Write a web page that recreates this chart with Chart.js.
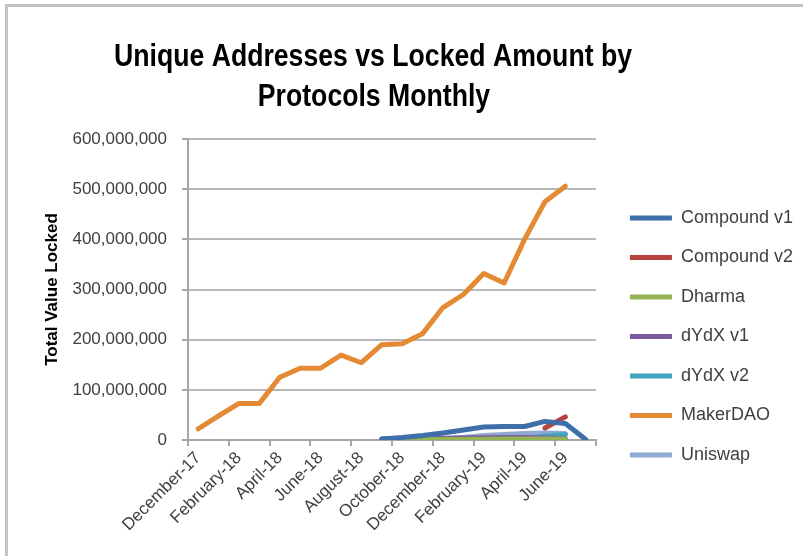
<!DOCTYPE html>
<html>
<head>
<meta charset="utf-8">
<script src="https://cdn.jsdelivr.net/npm/chart.js@4/dist/chart.umd.min.js"></script>
<style>
  body { margin: 0; background: #fff; }
  #frame { position: absolute; left: 5px; top: 4px; width: 820px; height: 580px;
           border-top: 3px solid #c4c4c4; border-left: 3px solid #c4c4c4; }
  #wrap { position: absolute; left: 0; top: 0; width: 803px; height: 556px; }
</style>
</head>
<body>
<div id="frame"></div>
<div id="wrap"><canvas id="tvlChart" width="803" height="556"></canvas></div>
<script>
// Months on the category axis (every other one gets a label, like the original)
const months = [
  'December-17', 'January-18', 'February-18', 'March-18', 'April-18', 'May-18',
  'June-18', 'July-18', 'August-18', 'September-18', 'October-18', 'November-18',
  'December-18', 'January-19', 'February-19', 'March-19', 'April-19', 'May-19',
  'June-19', 'July-19'
];

// Total value locked, in millions
const compoundV1 = [null, null, null, null, null, null, null, null, null, 2, 5, 9, 14, 20, 26, 27, 27, 37, 33, 1];
const compoundV2 = [null, null, null, null, null, null, null, null, null, null, null, null, null, null, null, null, null, 24, 46, null];
const dharma     = [null, null, null, null, null, null, null, null, null, 0.3, 0.5, 0.8, 1, 1.2, 1.5, 1.8, 2, 2.2, 2, null];
const dydxV1     = [null, null, null, null, null, null, null, null, null, 2, 2.5, 3, 3.5, 4, 4.5, 5, 5, 4, 3, null];
const dydxV2     = [null, null, null, null, null, null, null, null, null, null, null, null, null, null, null, null, 2, 8, 11, null];
const makerDao   = [22, 48, 73, 73, 125, 143, 143, 169, 154, 190, 192, 212, 264, 290, 332, 313, 400, 475, 506, null];
const uniswap    = [null, null, null, null, null, null, null, null, null, null, null, 0.5, 2, 5, 9, 11, 13, 14, 13, null];

const yTicks = [0, 100000000, 200000000, 300000000, 400000000, 500000000, 600000000];
const titleLines = ['Unique Addresses vs Locked Amount by', 'Protocols Monthly'];

const toUnits = arr => arr.map(v => v === null ? null : v * 1000000);

function series(label, values, color) {
  return {
    label: label,
    data: toUnits(values),
    borderColor: color,
    backgroundColor: color,
    borderWidth: 5,
    borderCapStyle: 'round',
    borderJoinStyle: 'round',
    pointRadius: 0,
    pointStyle: 'line',
    tension: 0,
    fill: false
  };
}

// Title drawn by hand: narrow bold (Calibri-like) and centred over the plot like in Excel
const excelTitle = {
  id: 'excelTitle',
  afterDraw(chart) {
    const ctx = chart.ctx;
    ctx.save();
    ctx.font = 'bold 31px "Liberation Sans", Arial, sans-serif';
    ctx.fillStyle = '#000';
    ctx.textAlign = 'center';
    ctx.textBaseline = 'alphabetic';
    const squeeze = 518 / ctx.measureText(titleLines[0]).width;
    ctx.fillText(titleLines[0], 373, 66, ctx.measureText(titleLines[0]).width * squeeze);
    ctx.fillText(titleLines[1], 374, 106, ctx.measureText(titleLines[1]).width * squeeze);
    ctx.restore();
  }
};

const tickFont = { family: '"Liberation Sans", Arial, sans-serif', size: 17 };

new Chart(document.getElementById('tvlChart'), {
  type: 'line',
  data: {
    labels: months,
    datasets: [
      series('Compound v1', compoundV1, '#3f6fa9'),
      series('Compound v2', compoundV2, '#b8423e'),
      series('Dharma', dharma, '#94b453'),
      series('dYdX v1', dydxV1, '#7a5c9e'),
      series('dYdX v2', dydxV2, '#42a6c0'),
      series('MakerDAO', makerDao, '#e48a35'),
      series('Uniswap', uniswap, '#90aad4')
    ]
  },
  options: {
    responsive: false,
    animation: false,
    devicePixelRatio: 1,
    layout: { padding: { top: 139, left: 0, right: 0, bottom: 22 } },
    plugins: {
      title: { display: false },
      tooltip: { enabled: false },
      legend: {
        position: 'right',
        align: 'center',
        labels: {
          usePointStyle: true,
          pointStyleWidth: 42,
          boxHeight: 5,
          padding: 21.5,
          color: '#404040',
          font: { family: '"Liberation Sans", Arial, sans-serif', size: 18 }
        }
      }
    },
    scales: {
      x: {
        offset: true,
        grid: {
          offset: true,
          drawOnChartArea: false,
          tickLength: 6,
          lineWidth: 2,
          tickColor: c => (c.index === undefined || c.index % 2 === 0) ? '#a6a6a6' : 'rgba(0,0,0,0)'
        },
        border: { color: '#a6a6a6', width: 2 },
        ticks: {
          autoSkip: false,
          minRotation: 45,
          maxRotation: 45,
          padding: 2,
          color: '#404040',
          font: tickFont,
          callback: (v, i) => i % 2 === 0 ? months[i] : ''
        },
        afterFit: s => { s.height = 94; }
      },
      y: {
        min: 0,
        max: 600000000,
        afterBuildTicks: s => { s.ticks = yTicks.map(v => ({ value: v })); },
        grid: { color: '#b8b8b8', lineWidth: 2, tickLength: 6, tickColor: '#a6a6a6' },
        border: { color: '#a6a6a6', width: 2 },
        ticks: {
          padding: 15,
          color: '#404040',
          font: tickFont,
          callback: v => v.toLocaleString('en-US')
        },
        title: {
          display: true,
          text: 'Total Value Locked',
          color: '#000',
          padding: { top: 42, bottom: 0 },
          font: { family: '"Liberation Sans", Arial, sans-serif', size: 17, weight: 'bold' }
        },
        afterFit: s => { s.width = 188; }
      },
      // hidden spacer between the plot and the legend
      gap: {
        type: 'linear',
        position: 'right',
        display: false,
        afterFit: s => { s.width = 12.5; }
      }
    }
  },
  plugins: [excelTitle]
});
</script>
</body>
</html>
